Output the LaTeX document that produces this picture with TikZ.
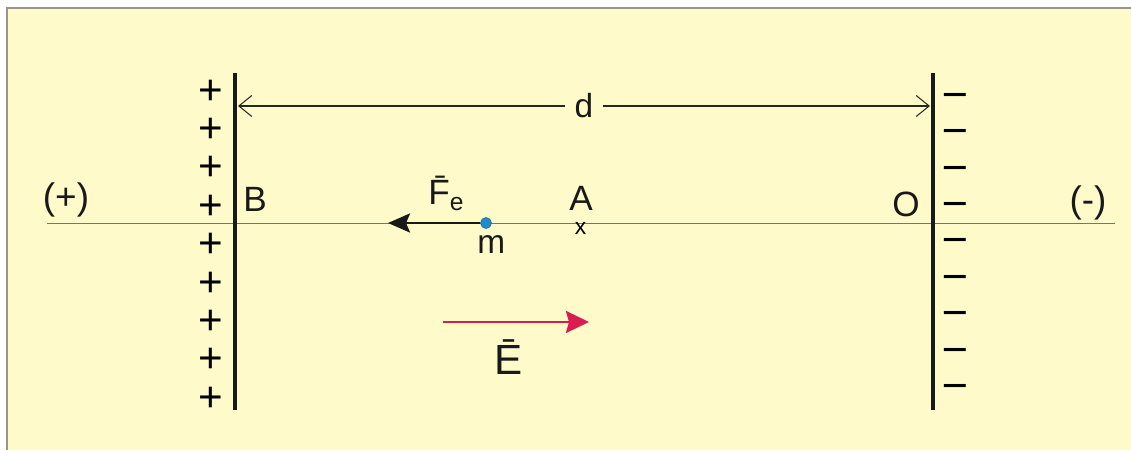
\documentclass[tikz,border=0pt]{standalone}
\usepackage{fontspec}
\setmainfont{Liberation Sans}
\usepackage{graphicx}
\usepackage{tikz}
\usetikzlibrary{arrows.meta, positioning}
\definecolor{paleyellow}{RGB}{255, 250, 202}
\definecolor{framegray}{RGB}{150, 150, 140}
\definecolor{axisolive}{RGB}{120, 120, 90}
\definecolor{fieldred}{RGB}{216, 30, 80}
\definecolor{chargeblue}{RGB}{30, 140, 205}
\newcommand{\fsz}[1]{\fontsize{#1}{#1}\selectfont}

\begin{document}
\begin{tikzpicture}[
    plate/.style={line width=2.8pt, black!90},
    axis/.style={axisolive, line width=0.5pt},
    lbl/.style={font=\fsz{20}, inner sep=0pt, text=black!90},
    plus/.style={font=\fsz{24}, inner sep=0pt, text height=0.7em, text depth=0pt},
    minus/.style={font=\fsz{18}\bfseries, inner sep=0pt, text height=0.5em, text depth=0pt},
    dim/.style={{Straight Barb[length=2.6mm, width=4.2mm]}-{Straight Barb[length=2.6mm, width=4.2mm]}, line width=0.6pt, black!85},
    force/.style={-{Stealth[length=4.4mm, width=3.8mm, inset=0.8mm]}, line width=1.6pt, black!90},
    field/.style={-{Stealth[length=4.6mm, width=4.4mm, inset=0.6mm]}, line width=1.5pt, fieldred}
]

\useasboundingbox (0,0) rectangle (22.62,9);
\fill[white] (0,0) rectangle (22.62,9);
\fill[paleyellow] (0.14,0) rectangle (22.62,8.84);
\draw[framegray, line width=0.8pt] (0.14,0) -- (0.14,8.84) -- (22.62,8.84);

%% axis
\coordinate (axL) at (0.94,4.54);
\coordinate (axR) at (22.30,4.54);
\draw[axis] (axL) -- (axR);

%% plates
\coordinate (Btop) at (4.70,7.54);
\coordinate (Bbot) at (4.70,0.80);
\coordinate (Otop) at (18.66,7.54);
\coordinate (Obot) at (18.66,0.80);
\draw[plate] (Btop) -- (Bbot);
\draw[plate] (Otop) -- (Obot);

%% charges
\foreach \i in {0,...,8}
    \node[plus] (p\i) at (4.21,7.04-0.768*\i) {+};
\foreach \i in {0,...,8}
    \node[minus] (n\i) at (19.10,7.02-0.728*\i) {\scalebox{1.4}[1]{--}};

\node[lbl, font=\fsz{21}] (plusside)  at (1.32,5.00)  {(+)};
\node[lbl, font=\fsz{21}] (minusside) at (21.76,4.94) {(-)};
\node[lbl, anchor=base west] (B) at (4.86,4.76) {B};
\node[lbl, anchor=base west] (O) at (17.84,4.66) {O};

%% distance d
\coordinate (dL) at (4.76,6.88);
\coordinate (dR) at (18.60,6.88);
\draw[dim] (dL) -- node[lbl, font=\fsz{19}, fill=paleyellow, inner xsep=5.5pt, inner ysep=1pt] (d) {d} (dR);

%% charge m and force
\node[circle, fill=chargeblue, draw=chargeblue!70!black, line width=0.3pt, inner sep=0pt, minimum size=2.2mm] (m) at (9.72,4.54) {};
\coordinate (Ftip) at (7.76,4.54);
\draw[force] (m.west) -- (Ftip);
\node[lbl, anchor=base west] (Fe) at (8.56,4.90) {\={F}\textsubscript{e}};
\node[lbl, font=\fsz{19}, anchor=base west] (mlbl) at (9.54,3.94) {m};

%% point A
\node[lbl, anchor=base west] (A) at (11.38,4.78) {A};
\node[font=\fsz{13}, inner sep=0pt] (Ax) at (11.61,4.44) {x};

%% field E
\coordinate (Estart) at (8.86,2.56);
\coordinate (Eend) at (11.78,2.56);
\draw[field] (Estart) -- (Eend);
\node[lbl, font=\fsz{24}] (E) at (10.18,1.86) {\={E}};

\end{tikzpicture}
\end{document}
